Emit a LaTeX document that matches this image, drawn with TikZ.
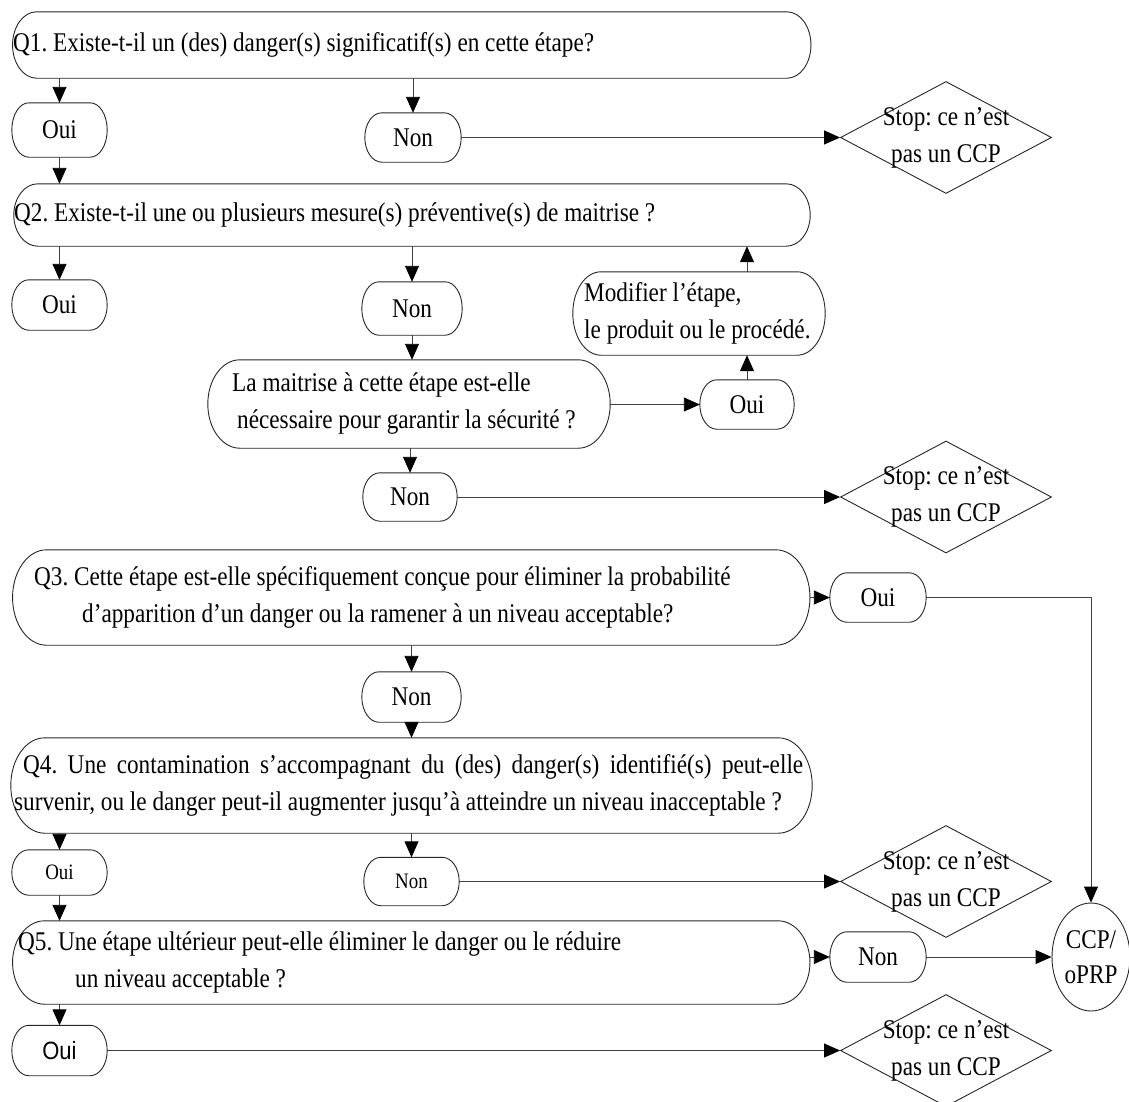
\documentclass[tikz,border=0pt]{standalone}
\usepackage{fontspec}
\setmainfont{Liberation Serif}[FakeStretch=0.86]
\newfontfamily\sansfont{Liberation Sans}[FakeStretch=0.88]
\usetikzlibrary{arrows.meta,shapes.geometric,calc}
\frenchspacing

\newcommand\mainsize{\fontsize{27}{37}\selectfont}
\newcommand\smallsize{\fontsize{22}{30}\selectfont}

% capsule outline: straight top/bottom, half-elliptic ends of horizontal radius #2
\newcommand\capsule[2]{%
  \draw[boxline] let \p1=(#1.north west), \p2=(#1.south east), \n1={(\y1-\y2)/2} in
    (\x1+#2,\y1) -- (\x2-#2,\y1)
    arc[start angle=90,end angle=-90,x radius=#2,y radius=\n1]
    -- (\x1+#2,\y2)
    arc[start angle=270,end angle=90,x radius=#2,y radius=\n1] -- cycle;}

\tikzset{
  boxline/.style={draw=black!85, line width=0.9pt},
  link/.style={draw=black!75, line width=0.9pt},
  arr/.style={link, -{Triangle[length=16pt,width=14pt,fill=black,color=black]}},
  frame/.style={rectangle, inner sep=0pt, font=\mainsize},
  qtext/.style={inner sep=0pt, anchor=west, align=left, font=\mainsize},
  stopbox/.style={diamond, boxline, inner sep=0pt, minimum width=211pt, minimum height=112pt},
  stoptext/.style={inner sep=0pt, align=center, font=\mainsize},
}

\begin{document}
\begin{tikzpicture}[x=1pt,y=1pt]
\useasboundingbox (0,0) rectangle (1129,-1101);

% question boxes
\node[frame, minimum width=798pt, minimum height=66pt] (q1) at (411.75,-45) {};
\node[frame, minimum width=796pt, minimum height=62pt] (q2) at (412,-215) {};
\node[frame, minimum width=402pt, minimum height=88pt] (m)  at (409,-404) {};
\node[frame, minimum width=252pt, minimum height=83pt] (mod) at (699,-313.5) {};
\node[frame, minimum width=797pt, minimum height=95pt] (q3) at (411.25,-597.5) {};
\node[frame, minimum width=801pt, minimum height=95pt] (q4) at (411.5,-785.5) {};
\node[frame, minimum width=797pt, minimum height=83pt] (q5) at (411.25,-962.5) {};

% answer boxes
\node[frame, minimum width=95pt, minimum height=54pt] (oui1) at (59.5,-130) {Oui};
\node[frame, minimum width=96pt, minimum height=49pt] (non1) at (413,-137.5) {Non};
\node[frame, minimum width=95pt, minimum height=50pt] (oui2) at (59.5,-305) {Oui};
\node[frame, minimum width=100pt, minimum height=53pt] (non2) at (412,-308.5) {Non};
\node[frame, minimum width=94pt, minimum height=49pt] (oui3) at (747,-404.5) {Oui};
\node[frame, minimum width=94pt, minimum height=48pt] (non3) at (410,-497) {Non};
\node[frame, minimum width=96pt, minimum height=49pt] (oui4) at (878,-597.5) {Oui};
\node[frame, minimum width=99pt, minimum height=50pt] (non4) at (411.5,-697) {Non};
\node[frame, minimum width=95pt, minimum height=45pt, font=\smallsize] (oui5) at (59.5,-872.5) {Oui};
\node[frame, minimum width=95pt, minimum height=48pt, font=\smallsize] (non5) at (411.5,-881.5) {Non};
\node[frame, minimum width=96pt, minimum height=50pt] (non6) at (878,-957) {Non};
\node[frame, minimum width=95pt, minimum height=50pt, font={\sansfont\fontsize{25}{30}\selectfont}] (oui6) at (59.5,-1050.5) {Oui};

\foreach \bx/\rr in {q1/24pt, q2/24pt, m/32pt, mod/28pt, q3/34pt, q4/34pt, q5/32pt,
  oui1/17pt, non1/17pt, oui2/17pt, non2/17pt, oui3/17pt, non3/17pt, oui4/17pt,
  non4/17pt, oui5/17pt, non5/17pt, non6/17pt, oui6/17pt}
  {\capsule{\bx}{\rr}}

% question texts
\node[qtext] (t1) at (13,-45) {Q1. Existe-t-il un (des) danger(s) significatif(s) en cette étape?};
\node[qtext] (t2) at (14,-215) {Q2. Existe-t-il une ou plusieurs mesure(s) préventive(s) de maitrise ?};
\node[qtext] (tm) at (232,-404) {La maitrise à cette étape est-elle\\\hspace*{5pt}nécessaire pour garantir la sécurité ?};
\node[qtext] (tmod) at (584,-313.5) {Modifier l’étape,\\le produit ou le procédé.};
\node[qtext] (t3) at (34,-597.5) {Q3. Cette étape est-elle spécifiquement conçue pour éliminer la probabilité\\\hspace*{48pt}d’apparition d’un danger ou la ramener à un niveau acceptable?};
\node[qtext] (t4) at (14,-785.5) {\hspace*{9pt}\makebox[780pt][s]{Q4. Une contamination s’accompagnant du (des) danger(s) identifié(s) peut-elle}\\survenir, ou le danger peut-il augmenter jusqu’à atteindre un niveau inacceptable ?};
\node[qtext] (t5) at (18,-962.5) {Q5. Une étape ultérieur peut-elle éliminer le danger ou le réduire\\\hspace*{57pt}un niveau acceptable ?};

% end points
\node[stopbox] (d1) at (946,-137.5) {};
\node[stopbox] (d2) at (946,-497) {};
\node[stopbox] (d3) at (946,-881.5) {};
\node[stopbox] (d4) at (946,-1050.5) {};
\foreach \d in {d1,d2,d3,d4}
  \node[stoptext] (\d t) at (\d) {Stop: ce n’est\\pas un CCP};

\node[ellipse, boxline, inner sep=0pt, minimum width=78pt, minimum height=108pt] (ccp) at (1091,-957) {};
\node[stoptext, font=\fontsize{27}{35}\selectfont] (ccpt) at (ccp) {CCP/\\oPRP};

% Q1
\draw[arr] (q1.south -| oui1.north) -- (oui1.north);
\draw[arr] (q1.south -| non1.north) -- (non1.north);
\draw[arr] (non1.east) -- (d1.west);
\draw[arr] (oui1.south) -- (oui1.south |- q2.north);
% Q2
\draw[arr] (q2.south -| oui2.north) -- (oui2.north);
\draw[arr] (q2.south -| non2.north) -- (non2.north);
\draw[arr] (non2.south) -- (non2.south |- m.north);
\draw[arr] (m.east |- oui3.west) -- (oui3.west);
\draw[arr] (oui3.north) -- (oui3.north |- mod.south);
\draw[arr] (oui3.north |- mod.north) -- (oui3.north |- q2.south);
\draw[arr] (m.south -| non3.north) -- (non3.north);
\draw[arr] (non3.east) -- (d2.west);
% Q3
\draw[arr] (q3.east) -- (oui4.west);
\draw[arr] (oui4.east) -- (oui4.east -| ccp.north) -- (ccp.north);
\draw[arr] (q3.south -| non4.north) -- (non4.north);
\draw[arr] (non4.south) -- (non4.south |- q4.north);
% Q4
\draw[arr] (q4.south -| oui5.north) -- (oui5.north);
\draw[arr] (q4.south -| non5.north) -- (non5.north);
\draw[arr] (non5.east) -- (d3.west);
\draw[arr] (oui5.south) -- (oui5.south |- q5.north);
% Q5
\draw[arr] (q5.east |- non6.west) -- (non6.west);
\draw[arr] (non6.east) -- (ccp.west);
\draw[arr] (q5.south -| oui6.north) -- (oui6.north);
\draw[arr] (oui6.east) -- (d4.west);
\end{tikzpicture}
\end{document}
